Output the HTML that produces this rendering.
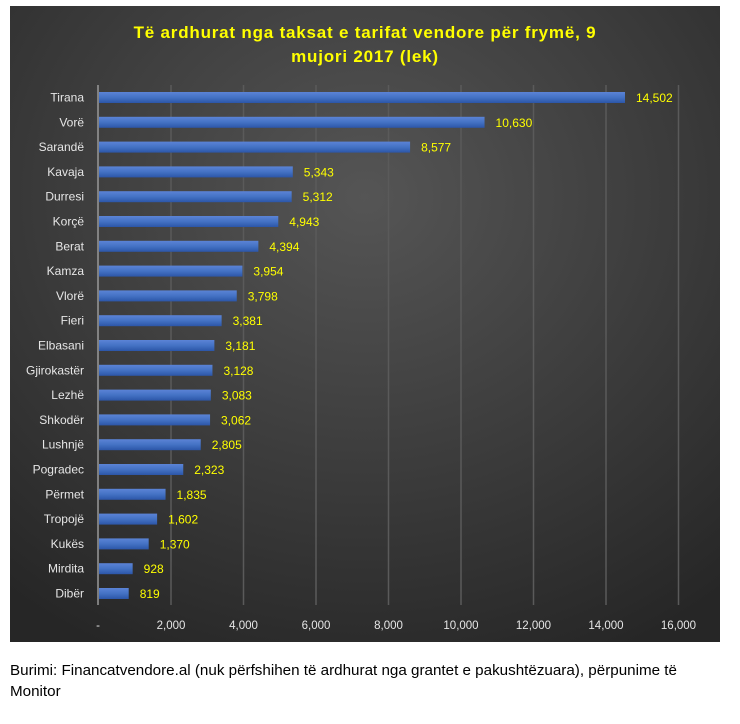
<!DOCTYPE html>
<html><head><meta charset="utf-8"><style>
body{margin:0;background:#fff;width:740px;height:724px;overflow:hidden;font-family:"Liberation Sans",sans-serif}
.cap{position:absolute;left:10px;top:660px;font-size:15.2px;line-height:21px;color:#000;width:730px;white-space:nowrap}
</style></head><body>
<svg width="740" height="724" style="position:absolute;left:0;top:0" xmlns="http://www.w3.org/2000/svg">
<defs>
<radialGradient id="bg" cx="0.5" cy="0.3" r="0.8">
<stop offset="0" stop-color="#555"/><stop offset="1" stop-color="#262626"/></radialGradient>
<linearGradient id="bar" x1="0" y1="0" x2="0" y2="1">
<stop offset="0" stop-color="#5b83d6"/><stop offset="0.5" stop-color="#4472c4"/><stop offset="1" stop-color="#2c56a8"/></linearGradient>
</defs>
<rect x="10" y="6" width="710" height="636" fill="url(#bg)"/>
<text x="365" y="38" text-anchor="middle" fill="#ffff00" font-weight="bold" font-size="17" letter-spacing="0.8">Të ardhurat nga taksat e tarifat vendore për frymë, 9</text>
<text x="365" y="62" text-anchor="middle" fill="#ffff00" font-weight="bold" font-size="17" letter-spacing="0.8">mujori 2017 (lek)</text>
<g stroke="#5a5a5a" stroke-width="1.5">
<line x1="171" y1="85" x2="171" y2="605"/><line x1="243.5" y1="85" x2="243.5" y2="605"/><line x1="316" y1="85" x2="316" y2="605"/><line x1="388.5" y1="85" x2="388.5" y2="605"/><line x1="461" y1="85" x2="461" y2="605"/><line x1="533.5" y1="85" x2="533.5" y2="605"/><line x1="606" y1="85" x2="606" y2="605"/><line x1="678.5" y1="85" x2="678.5" y2="605"/>
</g>
<line x1="98" y1="85" x2="98" y2="605" stroke="#999" stroke-width="1.5"/>
<g fill="#e6e6e6" font-size="11.5" text-anchor="middle">
<text x="98" y="629">-</text><text x="171" y="629">2,000</text><text x="243.5" y="629">4,000</text><text x="316" y="629">6,000</text><text x="388.5" y="629">8,000</text><text x="461" y="629">10,000</text><text x="533.5" y="629">12,000</text><text x="606" y="629">14,000</text><text x="678.5" y="629">16,000</text>
</g>
<g id="rows"></g>
</svg>
<div class="cap">Burimi: Financatvendore.al (nuk përfshihen të ardhurat nga grantet e pakushtëzuara), përpunime të<br>Monitor</div>
<script>
var d=[["Tirana",14502],["Vorë",10630],["Sarandë",8577],["Kavaja",5343],["Durresi",5312],["Korçë",4943],["Berat",4394],["Kamza",3954],["Vlorë",3798],["Fieri",3381],["Elbasani",3181],["Gjirokastër",3128],["Lezhë",3083],["Shkodër",3062],["Lushnjë",2805],["Pogradec",2323],["Përmet",1835],["Tropojë",1602],["Kukës",1370],["Mirdita",928],["Dibër",819]];
var s="";
d.forEach(function(r,i){var y=97.5+i*24.8;var w=r[1]*0.03627;
s+='<rect x="99" y="'+(y-5.5)+'" width="'+w+'" height="11" fill="url(#bar)"/>';
s+='<text x="84" y="'+(y+4)+'" text-anchor="end" fill="#e6e6e6" font-size="12">'+r[0]+'</text>';
s+='<text x="'+(99+w+11)+'" y="'+(y+4.5)+'" fill="#ffff00" font-size="12">'+r[1].toLocaleString("en-US")+'</text>';});
document.getElementById("rows").innerHTML=s;
</script>
</body></html>
